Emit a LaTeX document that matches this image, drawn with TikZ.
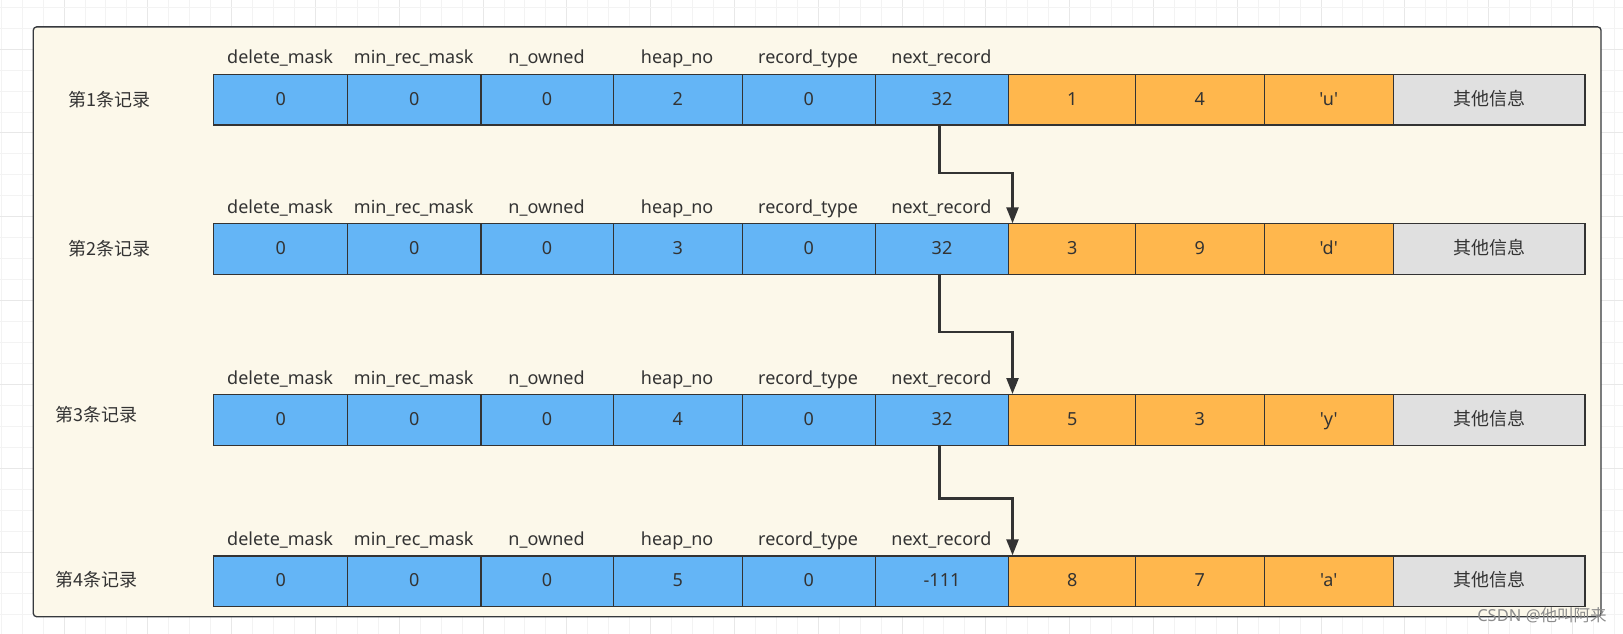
\documentclass[tikz,border=0pt]{standalone}
\usepackage{fontspec}
\setmainfont{Noto Sans}[Ligatures=TeXOff]
\newfontfamily\cjk{Noto Sans CJK SC}
\usetikzlibrary{arrows.meta}
\definecolor{blu}{RGB}{100,181,246}
\definecolor{org}{RGB}{255,183,77}
\definecolor{gry}{RGB}{224,224,224}
\definecolor{bgc}{RGB}{252,248,234}
\definecolor{ink}{RGB}{51,51,51}
\definecolor{boxc}{RGB}{54,57,61}
\definecolor{gridmin}{RGB}{243,243,243}
\definecolor{gridmaj}{RGB}{232,232,232}
\definecolor{wmc}{RGB}{140,140,140}

\def\xs{{213.2,347.1,480.4,612.6,741.6,874.6,1008.2,1134.9,1263.5,1392.8,1584.4}}

\newcommand\recrow[3]{%
  \foreach \v [count=\k] in {#3}{
    \pgfmathsetmacro\xl{\xs[\k-1]}
    \pgfmathsetmacro\xr{\xs[\k]}
    \pgfmathsetmacro\w{(\xr-\xl)*0.75}
    \pgfmathtruncatemacro\isblue{\k<7}
    \ifnum\isblue=1 \def\fc{blu}\else\def\fc{org}\fi
    \node[cell, fill=\fc, minimum width=\w pt] (r#1c\k) at (\xl,#2) {\v};
  }
  \pgfmathsetmacro\w{(1584.4-1392.8)*0.75}
  \node[cell, fill=gry, minimum width=\w pt] (r#1c10) at (1392.8,#2) {\cjk 其他信息};
  \foreach \t [count=\k] in {delete\_mask,min\_rec\_mask,n\_owned,heap\_no,record\_type,next\_record}{
    \pgfmathsetmacro\xl{\xs[\k-1]}
    \pgfmathsetmacro\xr{\xs[\k]}
    \node[hdr] (h#1c\k) at ({(\xl+\xr)/2},{#2-10}) {\t};
  }
}

\begin{document}
\begin{tikzpicture}[x=0.75pt,y=-0.75pt,
  every node/.style={font=\fontsize{13.5}{16}\selectfont, text=ink},
  cell/.style={draw=ink, line width=0.9pt, anchor=north west, inner sep=0pt,
    minimum height=37.875pt, text height=8.2pt, text depth=0pt},
  hdr/.style={anchor=base, inner sep=0pt},
  reclab/.style={anchor=base, inner sep=0pt, font=\fontsize{13.5}{16}\selectfont\cjk},
  arr/.style={draw=ink, line width=1.8pt, -{Triangle[length=12pt,width=9pt]}},
  ]
\useasboundingbox (0,0) rectangle (1623,634);
\fill[white] (0,0) rectangle (1623,634);
% background grid
\foreach \k in {0,...,77}{
  \pgfmathsetmacro\gx{1.2+20.95*\k}
  \pgfmathtruncatemacro\mj{mod(\k,4)==3}
  \ifnum\mj=1 \def\gc{gridmaj}\else\def\gc{gridmin}\fi
  \draw[\gc, line width=0.75pt] (\gx,0) -- (\gx,634);
}
\foreach \k in {0,...,30}{
  \pgfmathsetmacro\gy{7.3+20.95*\k}
  \pgfmathtruncatemacro\mj{mod(\k,4)==2}
  \ifnum\mj=1 \def\gc{gridmaj}\else\def\gc{gridmin}\fi
  \draw[\gc, line width=0.75pt] (0,\gy) -- (1623,\gy);
}
% container
\draw[draw=boxc, fill=bgc, line width=1pt, rounded corners=2.5pt] (33.3,26.9) rectangle (1601,616.7);

\recrow{1}{74}{0,0,0,2,0,32,1,4,'u'}
\recrow{2}{223.3}{0,0,0,3,0,32,3,9,'d'}
\recrow{3}{394}{0,0,0,4,0,32,5,3,'y'}
\recrow{4}{555.3}{0,0,0,5,0,-111,8,7,'a'}

\node[reclab] (lab1) at (109.7,107) {第1条记录};
\node[reclab] (lab2) at (109.7,255.3) {第2条记录};
\node[reclab] (lab3) at (96.3,421.1) {第3条记录};
\node[reclab] (lab4) at (96.3,586.5) {第4条记录};

\coordinate (m1) at (1012.5,172.9);
\coordinate (m2) at (1012.5,332.3);
\coordinate (m3) at (1012.5,498.5);
\draw[arr] ([xshift=-1.8pt]r1c6.south) |- (m1) -- (m1 |- r2c7.north);
\draw[arr] ([xshift=-1.8pt]r2c6.south) |- (m2) -- (m2 |- r3c7.north);
\draw[arr] ([xshift=-1.8pt]r3c6.south) |- (m3) -- (m3 |- r4c7.north);

\node[anchor=base east, inner sep=0pt, text=wmc, font=\fontsize{12.4}{14}\selectfont] (wm) at (1607,621) {CSDN @{\cjk 他叫阿来}};
\end{tikzpicture}
\end{document}
